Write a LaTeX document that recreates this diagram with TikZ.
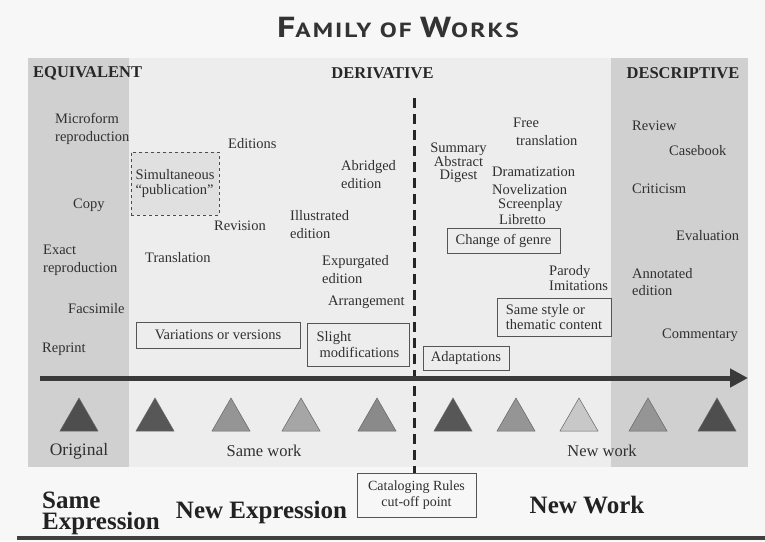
\documentclass[tikz,border=0pt]{standalone}
\usepackage{fontspec}
\setmainfont{Liberation Serif}
\newfontfamily\titlefont{PT Sans}[LetterSpace=8]
\usetikzlibrary{arrows.meta}
\definecolor{pagebg}{HTML}{F7F7F7}
\definecolor{midbg}{HTML}{EDEDED}
\definecolor{colbg}{HTML}{D0D0D0}
\definecolor{txtc}{HTML}{303030}
\definecolor{boxc}{HTML}{555555}
\definecolor{dashfill}{HTML}{E0E0E0}
\definecolor{arrc}{HTML}{3A3A3A}
\definecolor{tdark}{HTML}{4E4E4E}
\definecolor{tdark2}{HTML}{575757}
\definecolor{tmid}{HTML}{959595}
\definecolor{tmid2}{HTML}{A6A6A6}
\definecolor{tmid3}{HTML}{8A8A8A}
\definecolor{tlight}{HTML}{C8C8C8}
\begin{document}
\begin{tikzpicture}[x=1pt,y=-1pt,
  txt/.style={font=\fontsize{14.5}{17.5}\selectfont, text=txtc, inner sep=0pt, align=left},
  hdr/.style={font=\bfseries\fontsize{16.5}{19}\selectfont, text=txtc!80!black, inner sep=0pt},
  lbl/.style={font=\fontsize{16.5}{19}\selectfont, text=txtc, inner sep=0pt},
  big/.style={font=\bfseries\fontsize{25}{21.5}\selectfont, text=txtc!70!black, inner sep=0pt, align=left},
  fbox/.style={draw=boxc, line width=0.8pt, inner sep=0pt, font=\fontsize{14.5}{15.5}\selectfont, text=txtc},
  tri/.style={draw=black!60, line width=0.5pt}
]
\useasboundingbox (0,0) rectangle (765,541);
\fill[pagebg] (0,0) rectangle (765,541);
\fill[midbg] (28,58) rectangle (748,467);
\fill[colbg] (28,58) rectangle (129,467);
\fill[colbg] (611,58) rectangle (748,467);

% title
\node[inner sep=0pt, text=black!80, anchor=base] (title) at (398,37)
  {\scalebox{1.24}[1]{\titlefont\bfseries\fontsize{29}{30}\selectfont F\fontsize{20.5}{30}\selectfont AMILY OF \fontsize{29}{30}\selectfont W\fontsize{20.5}{30}\selectfont ORKS}};

% headers
\node[hdr, anchor=west] (equiv) at (33,73) {EQUIVALENT};
\node[hdr] (deriv) at (382.5,73) {DERIVATIVE};
\node[hdr] (descr) at (683,73) {DESCRIPTIVE};

% dashed box and boxes
\node[fbox, draw=black!70, dashed, line width=1pt, fill=dashfill, minimum width=88pt, minimum height=63pt, align=left] (simul) at (175,183.5)
  {Simultaneous\\``publication''};
\node[fbox, minimum width=164pt, minimum height=26pt] (variations) at (218,335) {Variations or versions};
\node[fbox, minimum width=102pt, minimum height=43pt, align=left] (slight) at (358,344.5) {Slight\\\hspace{3pt}modifications};
\node[fbox, minimum width=86pt, minimum height=24pt] (adapt) at (466,358) {Adaptations};
\node[fbox, minimum width=113pt, minimum height=25pt] (genre) at (503.5,240.5) {Change of genre};
\node[fbox, minimum width=114pt, minimum height=38pt, align=left] (style) at (554,317) {Same style or\\thematic content};
\node[fbox, minimum width=119pt, minimum height=44pt, align=center, font=\fontsize{14}{16}\selectfont] (catalog) at (416.5,495) {Cataloging Rules\\cut-off point};

% left column texts
\node[txt, anchor=west] (micro) at (55,129) {Microform\\reproduction};
\node[txt, anchor=west] (copy) at (73,205) {Copy};
\node[txt, anchor=west] (exact) at (43,260.5) {Exact\\reproduction};
\node[txt, anchor=west] (facs) at (68,309) {Facsimile};
\node[txt, anchor=west] (reprint) at (42,349) {Reprint};

% middle texts
\node[txt, anchor=west] (editions) at (228,144) {Editions};
\node[txt, anchor=west] (revision) at (214,226) {Revision};
\node[txt, anchor=west] (transl) at (145,258) {Translation};
\node[txt, anchor=west] (illus) at (290,224.5) {Illustrated\\edition};
\node[txt, anchor=west] (abridged) at (341,174.5) {Abridged\\edition};
\node[txt, anchor=west] (expurg) at (322,269.5) {Expurgated\\edition};
\node[txt, anchor=west] (arrange) at (328,302) {Arrangement};
\node[txt, align=center, font=\fontsize{14.5}{13}\selectfont] (summary) at (458.5,163) {Summary\\Abstract\\Digest};
\node[txt, anchor=west] (free) at (513,132) {Free\\\hspace{3pt}translation};
\node[txt, anchor=west] (dram) at (492,172) {Dramatization};
\node[txt, anchor=west] (novel) at (492,190) {Novelization};
\node[txt, anchor=west] (screen) at (498,205) {Screenplay};
\node[txt, anchor=west] (libretto) at (499,220) {Libretto};
\node[txt, anchor=west, font=\fontsize{14.5}{15}\selectfont] (parody) at (549,278.5) {Parody\\Imitations};

% right column texts
\node[txt, anchor=west] (review) at (632,126) {Review};
\node[txt, anchor=west] (casebook) at (669,151) {Casebook};
\node[txt, anchor=west] (criticism) at (632,189) {Criticism};
\node[txt, anchor=west] (evaluation) at (676,236) {Evaluation};
\node[txt, anchor=west] (annot) at (632,282) {Annotated\\edition};
\node[txt, anchor=west] (comment) at (662,335) {Commentary};

% dashed cut-off line
\coordinate (dtop) at (414.5,98);
\draw[black!85, line width=2.6pt, dash pattern=on 10pt off 6pt] (dtop) -- (catalog.north -| dtop);

% arrow
\coordinate (arrS) at (40,378);
\coordinate (arrE) at (748,378);
\draw[arrc, line width=5pt, -{Triangle[length=18pt,width=18pt]}] (arrS) -- (arrE);

% triangles
\foreach \x/\c in {79/tdark,155/tdark2,231/tmid,301/tmid2,377/tmid3,453/tdark2,516/tmid,579/tlight,648/tmid,717/tdark}{
  \filldraw[tri, fill=\c] (\x-19,431) -- (\x,398) -- (\x+19,431) -- cycle;
}

% bottom labels
\node[lbl, font=\fontsize{17.5}{20}\selectfont] (original) at (79,451) {Original};
\node[lbl] (samework) at (264,451) {Same work};
\node[lbl] (newwork) at (602,451) {New work};

\node[big, anchor=west] (sameexp) at (42,513.5) {Same\\Expression};
\node[big] (newexp) at (261.5,512) {New Expression};
\node[big] (newwork2) at (587,505) {New Work};

% bottom rule
\coordinate (ruleS) at (17,538);
\coordinate (ruleE) at (765,538);
\draw[black!75, line width=3.5pt] (ruleS) -- (ruleE);
\end{tikzpicture}
\end{document}
